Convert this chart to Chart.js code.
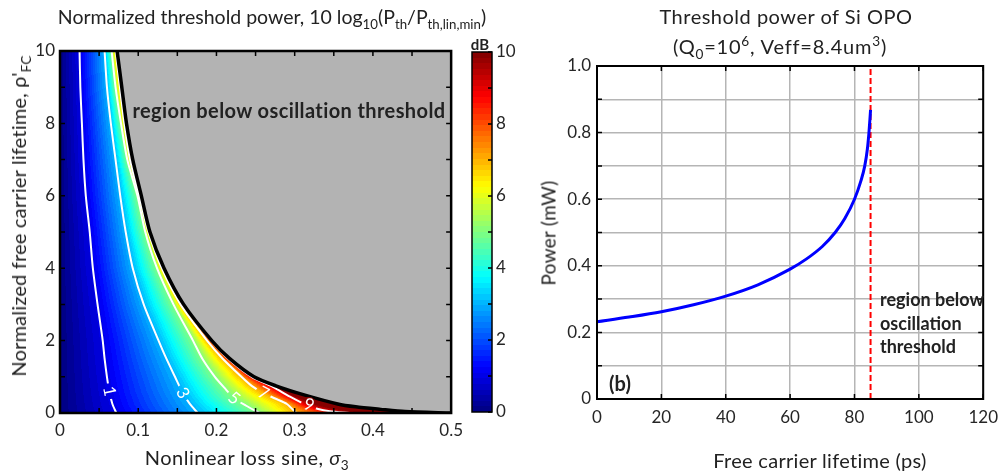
<!DOCTYPE html>
<html>
<head>
<meta charset="utf-8">
<script src="https://cdn.jsdelivr.net/npm/chart.js@4.4.1/dist/chart.umd.min.js"></script>
<style>
  html, body { margin: 0; padding: 0; background: #fff; }
  body { width: 1006px; height: 471px; position: relative; overflow: hidden;
         font-family: Lato, "DejaVu Sans", sans-serif; color: #222; }
  canvas { position: absolute; top: 0; }
  .t { position: absolute; white-space: nowrap; line-height: 1; transform: translate(-50%, -50%); }
  .b { font-weight: bold; }
  sub, sup { font-size: 0.68em; line-height: 0; }
</style>
</head>
<body>
<canvas id="heat" width="470" height="471" style="left:0"></canvas>
<canvas id="cbar" width="60" height="471" style="left:460px"></canvas>
<canvas id="power" width="486" height="471" style="left:520px"></canvas>

<div class="t" style="left:272px; top:17px; font-size:19.5px">Normalized threshold power, 10 log<sub>10</sub>(P<sub>th</sub>/P<sub>th,lin,min</sub>)</div>
<div class="t" style="left:18px; top:216px; font-size:20px; letter-spacing:0.2px; transform:translate(-50%,-50%) rotate(-90deg)">Normalized free carrier lifetime, &rho;'<sub>FC</sub></div>
<div class="t" style="left:247px; top:457px; font-size:20px; letter-spacing:0.5px">Nonlinear loss sine, <i>&sigma;</i><sub>3</sub></div>
<div class="t b" style="left:289px; top:110px; font-size:20px; letter-spacing:0.4px">region below oscillation threshold</div>
<div class="t b" style="left:480px; top:44px; font-size:15px">dB</div>

<div class="t" style="left:786px; top:16px; font-size:20px; letter-spacing:0.5px">Threshold power of Si OPO</div>
<div class="t" style="left:780px; top:46px; font-size:20px; letter-spacing:0.8px">(Q<sub>0</sub>=10<sup>6</sup>, Veff=8.4um<sup>3</sup>)</div>
<div class="t" style="left:548px; top:233px; font-size:19px; letter-spacing:0.3px; transform:translate(-50%,-50%) rotate(-90deg)">Power (mW)</div>
<div class="t" style="left:820px; top:460px; font-size:20px; letter-spacing:0.3px">Free carrier lifetime (ps)</div>
<div class="t b" style="left:620px; top:383px; font-size:20px">(b)</div>
<div class="b" style="position:absolute; left:880px; top:288px; font-size:18px; line-height:23.5px">region below<br>oscillation<br>threshold</div>

<script>
// ---------- left panel: contour lines, [sigma3, rho'FC] ----------
var contour1 = [[0.072, 0], [0.067, 0.25], [0.063, 0.6], [0.060, 1], [0.057, 1.5], [0.0546, 2], [0.048, 3],
                [0.042, 4], [0.038, 5], [0.033, 6], [0.030, 7], [0.028, 8], [0.026, 9], [0.025, 10]];
var contour3 = [[0.176, 0], [0.166, 0.25], [0.157, 0.55], [0.147, 1], [0.136, 1.5], [0.126, 2], [0.107, 3],
                [0.093, 4], [0.084, 5], [0.077, 6], [0.071, 7], [0.065, 8], [0.060, 9], [0.057, 10]];
var contour5 = [[0.255, 0], [0.238, 0.2], [0.2225, 0.41], [0.210, 0.7], [0.198, 1], [0.182, 1.5], [0.170, 2],
                [0.145, 3], [0.124, 4], [0.109, 5], [0.099, 6], [0.086, 7], [0.078, 8], [0.071, 9], [0.066, 10]];
var contour7 = [[0.302, 0], [0.290, 0.25], [0.275, 0.4], [0.260, 0.55], [0.245, 0.75], [0.232, 1], [0.208, 1.5],
                [0.188, 2], [0.154, 3], [0.130, 4], [0.113, 5], [0.101, 6], [0.0895, 7], [0.0822, 8], [0.0765, 9], [0.0712, 10]];
var contour9 = [[0.370, 0], [0.345, 0.05], [0.330, 0.11], [0.315, 0.22], [0.294, 0.45], [0.272, 0.72], [0.245, 1],
                [0.215, 1.5], [0.193, 2], [0.157, 3], [0.132, 4], [0.1145, 5], [0.1025, 6], [0.0915, 7], [0.0838, 8],
                [0.0778, 9], [0.0722, 10]];
var thresholdLine = [[0.5, 0], [0.441, 0.04], [0.41, 0.1], [0.378, 0.17], [0.355, 0.25], [0.312, 0.5], [0.276, 0.75],
                     [0.248, 1], [0.217, 1.5], [0.194, 2], [0.158, 3], [0.133, 4], [0.115, 5], [0.104, 6], [0.093, 7],
                     [0.085, 8], [0.079, 9], [0.073, 10]];
var contourLevels = [1, 3, 5, 7, 9];
var labelSigma = [0.063, 0.157, 0.2225, 0.26, 0.318];
var labelRho = [0.6, 0.55, 0.41, 0.55, 0.22];
var dbRange = [0, 10];

// ---------- right panel ----------
var lifetimePs = [0, 10, 20, 30, 40, 50, 60, 65, 70, 74, 77, 80, 82, 83.2, 84, 84.5, 84.8, 85];
var powerMw = [0.232, 0.246, 0.262, 0.283, 0.309, 0.343, 0.39, 0.42, 0.458, 0.50, 0.542, 0.60, 0.655, 0.70, 0.75, 0.80, 0.84, 0.868];
var thresholdLifetime = 85;

Chart.defaults.font.family = 'Lato, "DejaVu Sans", sans-serif';
Chart.defaults.font.size = 17;
Chart.defaults.color = '#262626';
Chart.defaults.animation = false;

function jet(t) {
    t = Math.max(0, Math.min(1, t));
    var idx = Math.min(63, Math.floor(t * 64));
    var u = (idx + 0.5) / 64;
    var f = function (c) { return Math.round(255 * Math.max(0, Math.min(1, 1.5 - Math.abs(4 * u - c)))); };
    return [f(3), f(2), f(1)];
}

function sigmaAt(curve, rho) {
    if (rho <= curve[0][1]) return curve[0][0];
    for (var i = 1; i < curve.length; i++) {
        if (rho <= curve[i][1]) {
            var s0 = curve[i - 1][0], r0 = curve[i - 1][1], s1 = curve[i][0], r1 = curve[i][1];
            return s0 + (s1 - s0) * (rho - r0) / (r1 - r0);
        }
    }
    return curve[curve.length - 1][0];
}

function toPoints(curve) {
    return curve.map(function (p) { return { x: p[0], y: p[1] }; });
}

// colour field between the contour lines, painted through the chart scales
function buildField(chart) {
    var a = chart.chartArea;
    var left = Math.round(a.left), top = Math.round(a.top);
    var w = Math.round(a.right) - left, h = Math.round(a.bottom) - top;
    var off = document.createElement('canvas');
    off.width = w; off.height = h;
    var octx = off.getContext('2d');
    var img = octx.createImageData(w, h);
    var xs = chart.scales.x, ys = chart.scales.y;
    var curves = [contour1, contour3, contour5, contour7, contour9, thresholdLine];
    var knotDb = [0, 1, 3, 5, 7, 9, 12];
    for (var j = 0; j < h; j++) {
        var rho = ys.getValueForPixel(top + j + 0.5);
        var knots = [0].concat(curves.map(function (c) { return sigmaAt(c, rho); }));
        for (var i = 0; i < w; i++) {
            var s = xs.getValueForPixel(left + i + 0.5);
            var col;
            if (s > knots[6]) {
                col = [179, 179, 179];
            } else {
                var k = 1;
                while (k < 6 && s > knots[k]) k++;
                var span = Math.max(1e-9, knots[k] - knots[k - 1]);
                var db = knotDb[k - 1] + (knotDb[k] - knotDb[k - 1]) * (s - knots[k - 1]) / span;
                col = jet((db - dbRange[0]) / (dbRange[1] - dbRange[0]));
            }
            var p = (j * w + i) * 4;
            img.data[p] = col[0]; img.data[p + 1] = col[1]; img.data[p + 2] = col[2]; img.data[p + 3] = 255;
        }
    }
    octx.putImageData(img, 0, 0);
    return { canvas: off, left: left, top: top };
}

var heatPlugin = {
    id: 'heat',
    beforeDatasetsDraw: function (chart) {
        chart.$field = buildField(chart);
        chart.ctx.drawImage(chart.$field.canvas, chart.$field.left, chart.$field.top);
    },
    afterDatasetsDraw: function (chart) {
        var ctx = chart.ctx, xs = chart.scales.x, ys = chart.scales.y, f = chart.$field;
        var curves = [contour1, contour3, contour5, contour7, contour9];
        for (var i = 0; i < contourLevels.length; i++) {
            var px = xs.getPixelForValue(labelSigma[i]), py = ys.getPixelForValue(labelRho[i]);
            var r1 = labelRho[i] + 0.12, r2 = Math.max(0, labelRho[i] - 0.12);
            var x1 = xs.getPixelForValue(sigmaAt(curves[i], r1)), y1 = ys.getPixelForValue(r1);
            var x2 = xs.getPixelForValue(sigmaAt(curves[i], r2)), y2 = ys.getPixelForValue(r2);
            var ang = Math.atan2(y2 - y1, x2 - x1);
            ctx.save();
            ctx.beginPath();
            ctx.arc(px, py, 8, 0, Math.PI * 2);
            ctx.clip();
            ctx.drawImage(f.canvas, f.left, f.top);
            ctx.restore();
            ctx.save();
            ctx.translate(px, py);
            ctx.rotate(ang);
            ctx.fillStyle = '#fff';
            ctx.font = '17px Lato, "DejaVu Sans", sans-serif';
            ctx.textAlign = 'center';
            ctx.textBaseline = 'middle';
            ctx.fillText(String(contourLevels[i]), 0, 0);
            ctx.restore();
        }
    }
};

// box outline plus inward tick marks, placed with the chart scales
var framePlugin = {
    id: 'frame',
    afterDatasetsDraw: function (chart, args, opts) {
        var ctx = chart.ctx, a = chart.chartArea, len = opts.len || 5;
        ctx.save();
        ctx.strokeStyle = '#000';
        ctx.lineWidth = opts.tickWidth || 1.5;
        ctx.beginPath();
        if (opts.x) {
            chart.scales.x.ticks.forEach(function (t) {
                var p = chart.scales.x.getPixelForValue(t.value);
                ctx.moveTo(p, a.bottom); ctx.lineTo(p, a.bottom - len);
                ctx.moveTo(p, a.top); ctx.lineTo(p, a.top + len);
            });
        }
        chart.scales.y.ticks.forEach(function (t) {
            var p = chart.scales.y.getPixelForValue(t.value);
            if (opts.yLeft) { ctx.moveTo(a.left, p); ctx.lineTo(a.left + len, p); }
            ctx.moveTo(a.right, p); ctx.lineTo(a.right - len, p);
        });
        ctx.stroke();
        ctx.lineWidth = opts.border || 2;
        ctx.strokeRect(a.left, a.top, a.right - a.left, a.bottom - a.top);
        ctx.restore();
    }
};

// ---------- left chart ----------
var whiteLine = function (curve) {
    return { data: toPoints(curve), showLine: true, borderColor: '#ffffff', borderWidth: 2,
             pointRadius: 0, tension: 0.25, order: 2 };
};
new Chart(document.getElementById('heat').getContext('2d'), {
    type: 'scatter',
    data: {
        datasets: [
            { data: toPoints(thresholdLine), showLine: true, borderColor: '#000000', borderWidth: 3.5,
              pointRadius: 0, tension: 0.25, order: 1 },
            whiteLine(contour1), whiteLine(contour3), whiteLine(contour5), whiteLine(contour7), whiteLine(contour9)
        ]
    },
    options: {
        responsive: false,
        layout: { padding: { left: 0, right: 13, top: 51, bottom: 0 } },
        plugins: { legend: { display: false }, tooltip: { enabled: false },
                   frame: { x: true, yLeft: true, len: 5, border: 2.5 } },
        scales: {
            x: {
                min: 0, max: 0.5,
                grid: { display: false, drawTicks: false }, border: { display: false },
                ticks: { stepSize: 0.05, autoSkip: false, maxRotation: 0, padding: 7,
                         callback: function (v) { var k = Math.round(v * 100); return k % 10 === 0 ? String(k / 100) : ''; } },
                afterFit: function (s) { s.height = 58; }
            },
            y: {
                min: 0, max: 10,
                grid: { display: false, drawTicks: false }, border: { display: false },
                ticks: { stepSize: 1, autoSkip: false, padding: 5,
                         callback: function (v) { return v % 2 === 0 ? String(v) : ''; } },
                afterFit: function (s) { s.width = 60; }
            }
        }
    },
    plugins: [heatPlugin, framePlugin]
});

// ---------- colour bar ----------
new Chart(document.getElementById('cbar').getContext('2d'), {
    type: 'bar',
    data: {
        labels: ['dB'],
        datasets: [{
            data: [dbRange],
            barPercentage: 1, categoryPercentage: 1, borderWidth: 0,
            backgroundColor: function (c) {
                var a = c.chart.chartArea;
                if (!a) return '#000080';
                var g = c.chart.ctx.createLinearGradient(0, a.bottom, 0, a.top);
                for (var i = 0; i < 64; i++) {
                    var col = jet((i + 0.5) / 64);
                    var css = 'rgb(' + col[0] + ',' + col[1] + ',' + col[2] + ')';
                    g.addColorStop(i / 64, css);
                    g.addColorStop(Math.min(1, (i + 1) / 64 - 0.0001), css);
                }
                return g;
            }
        }]
    },
    options: {
        responsive: false,
        layout: { padding: { left: 12, right: 0, top: 52, bottom: 59 } },
        plugins: { legend: { display: false }, tooltip: { enabled: false },
                   frame: { x: false, yLeft: false, len: 4, border: 1.5 } },
        scales: {
            x: { display: false },
            y: {
                position: 'right', min: dbRange[0], max: dbRange[1],
                grid: { display: false, drawTicks: false }, border: { display: false },
                ticks: { stepSize: 1, autoSkip: false, padding: 4,
                         callback: function (v) { return v % 2 === 0 ? String(v) : ''; } },
                afterFit: function (s) { s.width = 28; }
            }
        }
    },
    plugins: [framePlugin]
});

// ---------- right chart ----------
new Chart(document.getElementById('power').getContext('2d'), {
    type: 'scatter',
    data: {
        datasets: [
            { data: lifetimePs.map(function (t, i) { return { x: t, y: powerMw[i] }; }),
              showLine: true, borderColor: '#0000ff', borderWidth: 3, pointRadius: 0,
              cubicInterpolationMode: 'monotone' },
            { data: [{ x: thresholdLifetime, y: 0 }, { x: thresholdLifetime, y: 1 }],
              showLine: true, borderColor: '#ff0000', borderWidth: 2, borderDash: [6, 3], pointRadius: 0 }
        ]
    },
    options: {
        responsive: false,
        layout: { padding: { left: 0, right: 11, top: 66, bottom: 0 } },
        plugins: { legend: { display: false }, tooltip: { enabled: false },
                   frame: { x: true, yLeft: true, len: 5, border: 2 } },
        scales: {
            x: {
                min: 0, max: 120,
                grid: { color: '#b5b5b5', lineWidth: 1.5, drawTicks: false }, border: { display: false },
                ticks: { stepSize: 20, autoSkip: false, maxRotation: 0, padding: 8 },
                afterFit: function (s) { s.height = 72; }
            },
            y: {
                min: 0, max: 1,
                grid: { color: '#b5b5b5', lineWidth: 1.5, drawTicks: false }, border: { display: false },
                ticks: { stepSize: 0.1, autoSkip: false, padding: 6,
                         callback: function (v) { var k = Math.round(v * 10); return k % 2 !== 0 ? '' : (k === 0 ? '0' : (k / 10).toFixed(1)); } },
                afterFit: function (s) { s.width = 77; }
            }
        }
    },
    plugins: [framePlugin]
});
</script>
</body>
</html>
